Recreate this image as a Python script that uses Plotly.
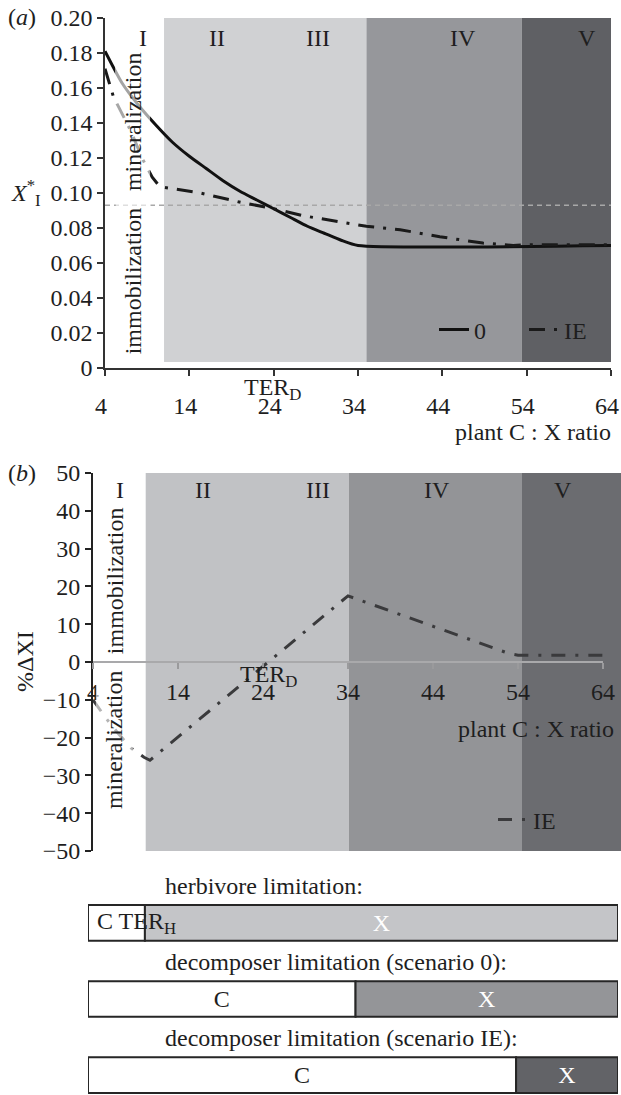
import plotly.graph_objects as go

W, H = 621, 1095
FONT = "Liberation Serif, Times New Roman, serif"
INK = "#1e1e1e"
FS = 24

# ---------------- data ----------------
X_TICKS = [4, 14, 24, 34, 44, 54, 64]
XB_MAX = 66.12

YA_TICKS = [0, 0.02, 0.04, 0.06, 0.08, 0.10, 0.12, 0.14, 0.16, 0.18, 0.20]
YA_TICKTEXT = ["0", "0.02", "0.04", "0.06", "0.08", "0.10", "0.12", "0.14", "0.16", "0.18", "0.20"]
YB_TICKS = [-50, -40, -30, -20, -10, 0, 10, 20, 30, 40, 50]
YB_TICKTEXT = ["\u221250", "\u221240", "\u221230", "\u221220", "\u221210", "0", "10", "20", "30", "40", "50"]

# panel (a): X*_I for scenario 0 and IE
ZERO_X = [4, 6, 8, 10, 12, 14, 16, 18, 20, 22, 24, 26, 28, 30, 32, 34, 64]
ZERO_Y = [0.181, 0.163, 0.150, 0.139, 0.129, 0.121, 0.114, 0.107, 0.101, 0.096,
          0.091, 0.086, 0.081, 0.077, 0.073, 0.070, 0.070]
IE_A_X = [4, 5, 7, 8.5, 9.6, 10.5, 15.3, 19.8, 24, 27.5, 35, 39, 43.7, 48.8, 52.4, 54, 64]
IE_A_Y = [0.171, 0.155, 0.136, 0.119, 0.109, 0.1036, 0.100, 0.095, 0.091, 0.087,
          0.081, 0.079, 0.075, 0.0714, 0.0700, 0.0705, 0.0705]
THRESHOLD_A = 0.093

# panel (b): % change of X_I (scenario IE)
IE_B_X = [4, 5.5, 7, 8.5, 10, 10.7, 34, 53, 54, 64]
IE_B_Y = [-10, -14.8, -19, -22.8, -25.2, -26, 17.5, 2.2, 1.8, 1.8]

REGION_NAMES = ["I", "II", "III", "IV", "V"]
REGION_A_LABEL_X = [8.5, 17.3, 29.3, 46.4, 61.2]
REGION_A_LABEL_Y = 0.1886
SHADE_A_START = [11, 35, 53.4]
SHADE_A_END = [35, 53.4, 64]
SHADE_A_COLOR = ["#d0d1d3", "#96979b", "#5f6064"]

REGION_B_LABEL_X = [7.2, 16.9, 30.5, 44.5, 59.3]
REGION_B_LABEL_Y = 45.5
SHADE_B_START = [10.2, 34.1, 54.4]
SHADE_B_END = [34.1, 54.4, XB_MAX]
SHADE_B_COLOR = ["#c1c2c5", "#939497", "#6b6c70"]

# limitation bars
BAR_TITLES = ["herbivore limitation:", "decomposer limitation (scenario 0):",
              "decomposer limitation (scenario IE):"]
BAR_ROW = [2, 1, 0]
BAR_START = 3.4
BAR_END = 65.8
BAR_C_END = [10.1, 34.9, 53.8]
BAR_C_TEXT = ["", "C", "C"]
BAR_X_TEXT = ["X", "X", "X"]
BAR_X_COLOR = ["#c4c5c8", "#949598", "#626367"]


def py(p):
    return 1 - p / H


fig = go.Figure()

# ---------------- panel (a) ----------------
fig.add_trace(go.Scatter(x=[X_TICKS[0], X_TICKS[-1]], y=[THRESHOLD_A, THRESHOLD_A],
                         mode="lines", line=dict(color="#a8a8a8", width=1.5, dash="5px,4px"),
                         showlegend=False, hoverinfo="skip", xaxis="x", yaxis="y"))
fig.add_trace(go.Scatter(x=ZERO_X, y=ZERO_Y, mode="lines", name="0",
                         line=dict(color="#111111", width=3, shape="spline", smoothing=0.6),
                         xaxis="x", yaxis="y", legend="legend"))
fig.add_trace(go.Scatter(x=IE_A_X, y=IE_A_Y, mode="lines", name="IE",
                         line=dict(color="#1a1a1a", width=3, dash="16px,9px,3px,9px"),
                         xaxis="x", yaxis="y", legend="legend"))

# ---------------- panel (b) ----------------
fig.add_trace(go.Scatter(x=IE_B_X, y=IE_B_Y, mode="lines", name="IE",
                         line=dict(color="#3a3a3c", width=3, dash="14px,10px,3px,10px"),
                         xaxis="x2", yaxis="y2", legend="legend2"))

# ---------------- bars ----------------
fig.add_trace(go.Bar(orientation="h", y=BAR_ROW,
                     x=[c - BAR_START for c in BAR_C_END], base=[BAR_START] * 3,
                     width=0.47, marker=dict(color="white", line=dict(color="#262626", width=2)),
                     text=BAR_C_TEXT, textposition="inside", insidetextanchor="middle",
                     textangle=0, textfont=dict(family=FONT, size=FS, color=INK),
                     showlegend=False, hoverinfo="skip", xaxis="x3", yaxis="y3"))
fig.add_trace(go.Bar(orientation="h", y=BAR_ROW,
                     x=[BAR_END - c for c in BAR_C_END], base=BAR_C_END,
                     width=0.47, marker=dict(color=BAR_X_COLOR, line=dict(color="#262626", width=2)),
                     text=BAR_X_TEXT, textposition="inside", insidetextanchor="middle",
                     textangle=0, textfont=dict(family=FONT, size=FS, color="white"),
                     showlegend=False, hoverinfo="skip", xaxis="x3", yaxis="y3"))

shapes = []
for s, e, c in zip(SHADE_A_START, SHADE_A_END, SHADE_A_COLOR):
    shapes.append(dict(type="rect", xref="x", yref="y", x0=s, x1=e, y0=0.0035, y1=YA_TICKS[-1],
                       fillcolor=c, line=dict(width=0), layer="below"))
for s, e, c in zip(SHADE_B_START, SHADE_B_END, SHADE_B_COLOR):
    shapes.append(dict(type="rect", xref="x2", yref="y2", x0=s, x1=e, y0=YB_TICKS[0], y1=YB_TICKS[-1],
                       fillcolor=c, line=dict(width=0), layer="below"))
# zero axis line of panel (b)
shapes.append(dict(type="line", xref="x2", yref="y2", x0=X_TICKS[0], x1=X_TICKS[-1], y0=0, y1=0,
                   line=dict(color="#a9a9ab", width=2), layer="below"))

ann = []
def txt(text, x, y, xref="paper", yref="paper", xanchor="center", yanchor="middle",
        size=FS, angle=0, bg=None, color=INK, pad=1, xshift=0):
    d = dict(text=text, x=x, y=y, xref=xref, yref=yref, xanchor=xanchor, yanchor=yanchor,
             showarrow=False, textangle=angle, font=dict(family=FONT, size=size, color=color),
             borderpad=pad, xshift=xshift)
    if bg:
        d["bgcolor"] = bg
    ann.append(d)

FADE = "rgba(255,255,255,0.62)"
# panel (a)
txt("(<i>a</i>)", 6 / W, py(17), xanchor="left")
txt("<i>X</i><sup>*</sup><sub>I</sub>", 9 / W, py(193), xanchor="left")
for n, xv in zip(REGION_NAMES, REGION_A_LABEL_X):
    txt(n, xv, REGION_A_LABEL_Y, xref="x", yref="y")
txt("mineralization", 7.3, 0.141, xref="x", yref="y", angle=-90, bg=FADE, pad=4)
txt("immobilization", 7.3, 0.050, xref="x", yref="y", angle=-90, bg=FADE, pad=4)
txt("TER<sub>D</sub>", 23.9, py(389), xref="x", yref="paper")
txt("plant C : X ratio", 613 / W, py(432), xanchor="right")
# panel (b)
txt("(<i>b</i>)", 6 / W, py(473), xanchor="left")
txt("%\u0394XI", 25 / W, py(662), angle=-90)
for n, xv in zip(REGION_NAMES, REGION_B_LABEL_X):
    txt(n, xv, REGION_B_LABEL_Y, xref="x2", yref="y2")
txt("immobilization", 6.6, 21.4, xref="x2", yref="y2", angle=-90, bg=FADE, pad=5)
txt("mineralization", 6.5, -20.6, xref="x2", yref="y2", angle=-90, bg=FADE, pad=5)
txt("TER<sub>D</sub>", 24.6, -3.6, xref="x2", yref="y2")
txt("plant C : X ratio", 616 / W, py(729), xanchor="right")
# bars
for t, r in zip(BAR_TITLES, BAR_ROW):
    txt(t, 12.2, r + 0.487, xref="x3", yref="y3", xanchor="left")
txt("C TER<sub>H</sub>", BAR_START, BAR_ROW[0], xref="x3", yref="y3", xanchor="left", xshift=7)

axis_font = dict(family=FONT, size=FS, color=INK)
yb_dom = [py(851), py(473)]
x2_pos = yb_dom[0] + (0 - YB_TICKS[0]) / (YB_TICKS[-1] - YB_TICKS[0]) * (yb_dom[1] - yb_dom[0])

fig.update_layout(
    width=W, height=H, margin=dict(l=0, r=0, t=0, b=0, autoexpand=False),
    paper_bgcolor="white", plot_bgcolor="rgba(0,0,0,0)",
    font=axis_font, barmode="overlay", shapes=shapes, annotations=ann,
    xaxis=dict(domain=[105 / W, 611 / W], range=[X_TICKS[0], X_TICKS[-1]], anchor="y",
               tickvals=X_TICKS, ticks="outside", ticklen=6, tickwidth=1.5, tickcolor="#333",
               showline=True, linecolor="#333", linewidth=1.5, showgrid=False, zeroline=False,
               ticklabelstandoff=9, ticklabelshift=-4, tickfont=axis_font, automargin=False),
    yaxis=dict(domain=[py(368), py(18)], range=[0, YA_TICKS[-1]], anchor="x",
               tickvals=YA_TICKS, ticktext=YA_TICKTEXT, ticks="outside", ticklen=6, tickwidth=1.5,
               tickcolor="#333", showline=True, linecolor="#333", linewidth=1.5,
               showgrid=False, zeroline=False, tickfont=axis_font, automargin=False),
    xaxis2=dict(domain=[93 / W, 1.0], range=[X_TICKS[0], XB_MAX], anchor="free", position=x2_pos,
                tickvals=X_TICKS, ticks="outside", ticklen=6, tickwidth=1.5, tickcolor="#9a9a9c",
                showline=False, showgrid=False, zeroline=False, ticklabelstandoff=2,
                tickfont=axis_font, automargin=False),
    yaxis2=dict(domain=yb_dom, range=[YB_TICKS[0], YB_TICKS[-1]], anchor="x2",
                tickvals=YB_TICKS, ticktext=YB_TICKTEXT, ticks="outside", ticklen=6, tickwidth=1.5,
                tickcolor="#222", showline=True, linecolor="#222", linewidth=2,
                showgrid=False, zeroline=False, tickfont=axis_font, automargin=False),
    xaxis3=dict(domain=[88 / W, 618 / W], range=[BAR_START, BAR_END], anchor="y3",
                visible=False, fixedrange=True, automargin=False),
    yaxis3=dict(domain=[0.0002, 0.1918], range=[-0.26, 2.5], anchor="x3",
                visible=False, fixedrange=True, automargin=False),
    legend=dict(x=434 / W, y=py(330), xanchor="left", yanchor="middle", orientation="h",
                bgcolor="rgba(0,0,0,0)", font=axis_font, itemwidth=30, tracegroupgap=0,
                entrywidth=45),
    legend2=dict(x=493 / W, y=py(820), xanchor="left", yanchor="middle", orientation="h",
                 bgcolor="rgba(0,0,0,0)", font=axis_font, itemwidth=30),
)

fig.write_html("out.html")
